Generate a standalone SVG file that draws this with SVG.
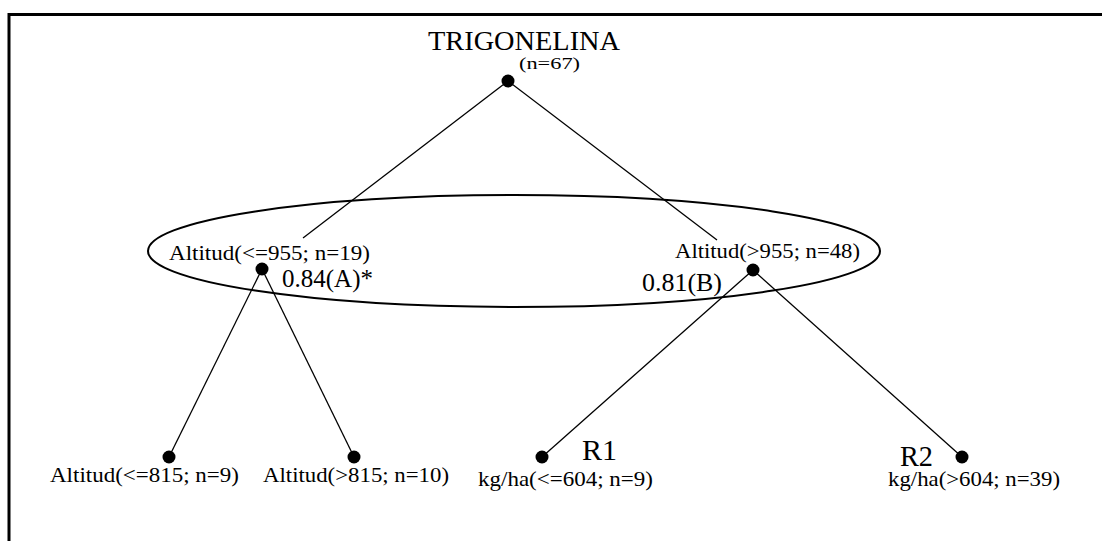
<svg xmlns="http://www.w3.org/2000/svg" width="1102" height="541" viewBox="0 0 1102 541">
<style>
text{font-family:"Liberation Serif","Times New Roman",serif;fill:#000}
.lbl{font-size:21px}
.big{font-size:25px}
.r{font-size:29px}
.edge{stroke:#000;stroke-width:1.3;fill:none}
.dot{fill:#000}
</style>
<rect width="1102" height="541" fill="#fff"/>
<path d="M9 541 V14.5 H1102" stroke="#000" stroke-width="3" fill="none"/>
<g id="connectors">
<line class="edge" x1="508" y1="81" x2="303" y2="238"/>
<line class="edge" x1="508" y1="81" x2="717" y2="240"/>
<line class="edge" x1="262" y1="269" x2="169" y2="457"/>
<line class="edge" x1="262" y1="269" x2="354" y2="457"/>
<line class="edge" x1="753" y1="270" x2="542" y2="457"/>
<line class="edge" x1="753" y1="270" x2="962" y2="457"/>
</g>
<g id="group-ellipse">
<ellipse cx="514" cy="251" rx="366" ry="56" fill="none" stroke="#000" stroke-width="2"/>
</g>
<g id="root">
<text x="428" y="50" font-size="27" textLength="192" lengthAdjust="spacingAndGlyphs">TRIGONELINA</text>
<text x="519" y="69" font-size="17" textLength="61" lengthAdjust="spacingAndGlyphs">(n=67)</text>
<circle class="dot" cx="508" cy="81" r="6.5"/>
</g>
<g id="left-node">
<text class="lbl" x="169" y="260" textLength="201" lengthAdjust="spacingAndGlyphs">Altitud(&lt;=955; n=19)</text>
<circle class="dot" cx="262" cy="269" r="6.5"/>
<text class="big" x="282" y="287" textLength="91" lengthAdjust="spacingAndGlyphs">0.84(A)*</text>
</g>
<g id="right-node">
<text class="lbl" x="675" y="258" textLength="185" lengthAdjust="spacingAndGlyphs">Altitud(&gt;955; n=48)</text>
<circle class="dot" cx="753" cy="270" r="6.5"/>
<text class="big" x="642" y="291" textLength="80" lengthAdjust="spacingAndGlyphs">0.81(B)</text>
</g>
<g id="leaf-1">
<circle class="dot" cx="169" cy="457" r="6.5"/>
<text class="lbl" x="50" y="482" textLength="189" lengthAdjust="spacingAndGlyphs">Altitud(&lt;=815; n=9)</text>
</g>
<g id="leaf-2">
<circle class="dot" cx="354" cy="457" r="6.5"/>
<text class="lbl" x="263" y="482" textLength="186" lengthAdjust="spacingAndGlyphs">Altitud(&gt;815; n=10)</text>
</g>
<g id="leaf-3">
<circle class="dot" cx="542" cy="457" r="6.5"/>
<text class="r" x="582" y="460" textLength="35" lengthAdjust="spacingAndGlyphs">R1</text>
<text class="lbl" x="478" y="486" textLength="175" lengthAdjust="spacingAndGlyphs">kg/ha(&lt;=604; n=9)</text>
</g>
<g id="leaf-4">
<circle class="dot" cx="962" cy="457" r="6.5"/>
<text class="r" x="900" y="466" textLength="33" lengthAdjust="spacingAndGlyphs">R2</text>
<text class="lbl" x="888" y="486" textLength="172" lengthAdjust="spacingAndGlyphs">kg/ha(&gt;604; n=39)</text>
</g>
</svg>
